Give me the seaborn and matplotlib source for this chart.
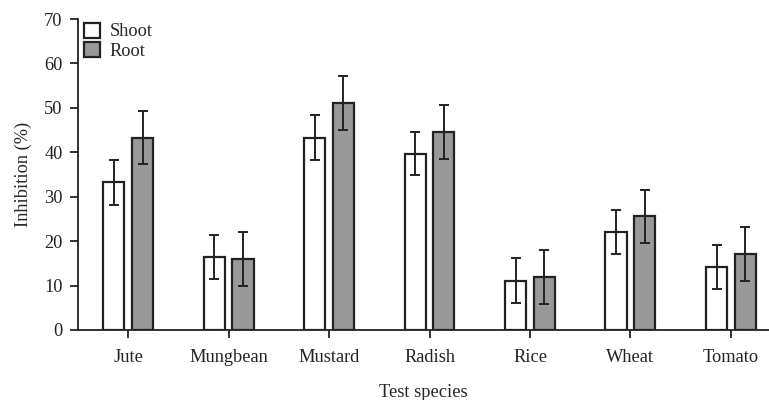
import matplotlib
matplotlib.use("Agg")
import matplotlib.pyplot as plt
import seaborn as sns
import pandas as pd

species = ["Jute", "Mungbean", "Mustard", "Radish", "Rice", "Wheat", "Tomato"]
shoot = [33.2, 16.4, 43.3, 39.7, 11.1, 22.1, 14.2]
shoot_err = [5.0, 5.0, 5.0, 4.9, 5.0, 5.0, 5.0]
root = [43.3, 15.9, 51.1, 44.6, 12.0, 25.6, 17.1]
root_err = [6.0, 6.1, 6.0, 6.1, 6.1, 6.0, 6.0]
series = ["Shoot", "Root"]

df = pd.DataFrame({
    "species": species * 2,
    "part": [series[0]] * len(species) + [series[1]] * len(species),
    "value": shoot + root,
})

sns.set_theme(style="ticks")
plt.rcParams["font.family"] = ["Liberation Serif", "DejaVu Serif"]

FS = 13.2
fig = plt.figure(figsize=(7.69, 4.0), dpi=100)
ax = fig.add_axes([0.1014, 0.175, 0.8986, 0.7775])

edge = "#222222"
sns.barplot(data=df, x="species", y="value", hue="part", order=species,
            hue_order=series, palette=["#ffffff", "#999999"], width=0.57,
            gap=0.26, errorbar=None, edgecolor=edge, linewidth=1.6, ax=ax,
            saturation=1)

for cont, errs in zip(ax.containers, [shoot_err, root_err]):
    xs = [p.get_x() + p.get_width() / 2 for p in cont]
    hs = [p.get_height() for p in cont]
    ax.errorbar(xs, hs, yerr=errs, fmt="none", ecolor=edge, elinewidth=1.4,
                capsize=3.3, capthick=1.4, zorder=5)

ax.set_xlim(-0.5, 6.38)
ax.set_ylim(0, 70)
ax.set_yticks(range(0, 71, 10))
ax.set_xlabel("Test species", fontsize=FS, labelpad=12.5)
ax.set_ylabel("Inhibition (%)", fontsize=FS, labelpad=9)
ax.tick_params(axis="both", labelsize=FS, direction="out", length=6, width=1.3,
               color=edge, labelcolor="#222222")
ax.tick_params(axis="x", pad=8)
ax.tick_params(axis="y", pad=5)
for s in ["top", "right"]:
    ax.spines[s].set_visible(False)
for s in ["left", "bottom"]:
    ax.spines[s].set_linewidth(1.3)
    ax.spines[s].set_color(edge)

leg = ax.legend(loc="upper left", bbox_to_anchor=(-0.01, 1.03), frameon=False,
                fontsize=FS, handlelength=0.9, handleheight=0.9,
                handletextpad=0.5, labelspacing=0.08, borderaxespad=0.3)
for h in leg.legend_handles:
    h.set_edgecolor(edge)
    h.set_linewidth(1.6)

fig.savefig("out.png", dpi=100)
